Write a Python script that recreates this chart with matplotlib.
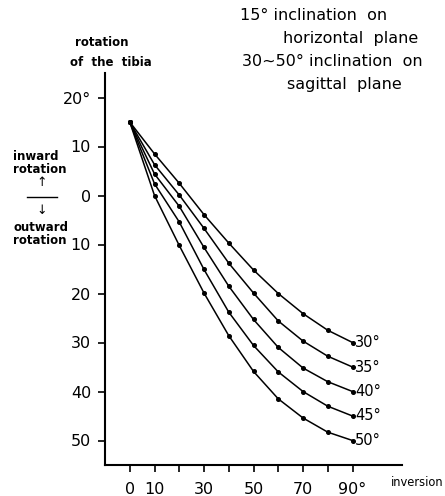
import matplotlib
matplotlib.use("Agg")
from matplotlib import pyplot as plt
from matplotlib.lines import Line2D

# inversion angle (deg) and rotation of the tibia (deg, + = inward)
inversion = [0, 10, 20, 30, 40, 50, 60, 70, 80, 90]
rot_30 = [15, 8.5, 2.5, -3.9, -9.7, -15.2, -20.0, -24.1, -27.5, -30.0]
rot_35 = [15, 6.3, 0.1, -6.7, -13.8, -19.9, -25.6, -29.7, -32.8, -35.0]
rot_40 = [15, 4.4, -2.2, -10.6, -18.5, -25.3, -31.0, -35.2, -38.0, -40.0]
rot_45 = [15, 2.4, -5.4, -15.1, -23.8, -30.6, -36.0, -40.0, -43.0, -45.0]
rot_50 = [15, 0.0, -10.2, -19.9, -28.6, -35.9, -41.5, -45.4, -48.3, -50.0]
curve_labels = ["30°", "35°", "40°", "45°", "50°"]

y_ticks = [20, 10, 0, -10, -20, -30, -40, -50]
y_ticklabels = ["20°", "10", "0", "10", "20", "30", "40", "50"]
x_ticks = [0, 10, 20, 30, 40, 50, 60, 70, 80, 90]
x_ticklabels = ["0", "10", "", "30", "", "50", "", "70", "", "90°"]

W, H = 445, 496


def fx(px):
    return px / W


def fy(py):
    return 1 - py / H


graph = plt.figure(figsize=(W / 100, H / 100), dpi=100)
axes = graph.add_axes([fx(105), fy(465), fx(402) - fx(105), fy(73) - fy(465)])

for vals, lab in zip([rot_30, rot_35, rot_40, rot_45, rot_50], curve_labels):
    axes.plot(inversion, vals, color="black", lw=1.1, marker="o", ms=2.6)
    axes.annotate(lab, (inversion[-1], vals[-1]), xytext=(2, 0),
                  textcoords="offset points", va="center", ha="left",
                  fontsize=10.5)

axes.set_xlim(-10, 110)
axes.set_ylim(-55, 25)
axes.spines["top"].set_visible(False)
axes.spines["right"].set_visible(False)
axes.spines["left"].set_linewidth(1.5)
axes.spines["bottom"].set_linewidth(1.5)

axes.set_yticks(y_ticks)
axes.set_yticklabels(y_ticklabels, fontsize=11.5)
axes.set_xticks(x_ticks)
axes.set_xticklabels(x_ticklabels, fontsize=11.5)
axes.tick_params(axis="y", direction="out", length=5, width=1.2, pad=5)
axes.tick_params(axis="x", direction="out", length=5, width=1.2, pad=7)

# axis titles
graph.text(fx(102), fy(43), "rotation", ha="center", va="center",
           fontsize=8.5, fontweight="bold")
graph.text(fx(111), fy(62), "of  the  tibia", ha="center", va="center",
           fontsize=8.5, fontweight="bold")
graph.text(fx(391), fy(483), "inversion", ha="left", va="center", fontsize=8.3)

# inward / outward note
graph.text(fx(13), fy(163), "inward\nrotation", ha="left", va="center",
           fontsize=8.5, fontweight="bold", linespacing=0.95)
graph.text(fx(42), fy(183), "↑", ha="center", va="center", fontsize=9)
graph.add_artist(Line2D([fx(27), fx(57)], [fy(197), fy(197)], color="black",
                        lw=1.0, transform=graph.transFigure))
graph.text(fx(42), fy(211), "↓", ha="center", va="center", fontsize=9)
graph.text(fx(13), fy(234), "outward\nrotation", ha="left", va="center",
           fontsize=8.5, fontweight="bold", linespacing=0.95)

# title block
graph.text(fx(240), fy(16), "15° inclination  on", ha="left", va="center",
           fontsize=11.5)
graph.text(fx(283), fy(39), "horizontal  plane", ha="left", va="center",
           fontsize=11.5)
graph.text(fx(242), fy(62), "30~50° inclination  on", ha="left", va="center",
           fontsize=11.5)
graph.text(fx(287), fy(84), "sagittal  plane", ha="left", va="center",
           fontsize=11.5)

graph.savefig("out.png", dpi=100)
plt.close(graph)
